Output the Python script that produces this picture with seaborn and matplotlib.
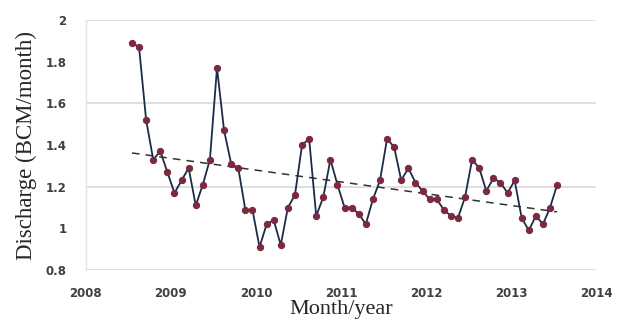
import numpy as np
import pandas as pd
import matplotlib
matplotlib.use("Agg")
import matplotlib.pyplot as plt
import seaborn as sns

# Monthly discharge, July 2008 - July 2013 (BCM/month)
start_year = 2008
start_month = 7
discharge = [
    1.89, 1.87, 1.52, 1.33, 1.37, 1.27, 1.17, 1.23, 1.29, 1.11, 1.21, 1.33,
    1.77, 1.47, 1.31, 1.29, 1.09, 1.09, 0.91, 1.02, 1.04, 0.92, 1.10, 1.16,
    1.40, 1.43, 1.06, 1.15, 1.33, 1.21, 1.10, 1.10, 1.07, 1.02, 1.14, 1.23,
    1.43, 1.39, 1.23, 1.29, 1.22, 1.18, 1.14, 1.14, 1.09, 1.06, 1.05, 1.15,
    1.33, 1.29, 1.18, 1.24, 1.22, 1.17, 1.23, 1.05, 0.99, 1.06, 1.02, 1.10,
    1.21,
]
x_ticks = [2008, 2009, 2010, 2011, 2012, 2013, 2014]
y_ticks = [0.8, 1.0, 1.2, 1.4, 1.6, 1.8, 2.0]
y_tick_labels = ["0.8", "1", "1.2", "1.4", "1.6", "1.8", "2"]

# Each month placed at its middle, in fractional years
months = np.arange(len(discharge))
year_frac = start_year + (start_month - 0.5 + months) / 12.0
df = pd.DataFrame({"t": year_frac, "q": discharge})

# Linear trend fitted to the monthly series
coef = np.polyfit(df["t"], df["q"], 1)
df["trend"] = np.polyval(coef, df["t"])

sns.set_theme(style="white")
plt.rcParams["font.family"] = ["DejaVu Sans"]

fig = plt.figure(figsize=(6.41, 3.27), dpi=100)
ax = fig.add_axes([0.134, 0.174, 0.796, 0.765])

for yv in [0.8, 1.2, 1.6, 2.0]:
    ax.axhline(yv, color="#d9d9d9", lw=1.2, zorder=0)

sns.lineplot(data=df, x="t", y="trend", ax=ax, color="#333333", lw=1.1,
             linestyle=(0, (5, 4)), zorder=2)
sns.lineplot(data=df, x="t", y="q", ax=ax, color="#1c2b4a", lw=1.3,
             marker="o", markersize=4.5, markerfacecolor="#7b2840",
             markeredgecolor="#7b2840", zorder=3)

ax.set_xlim(2008, 2014)
ax.set_ylim(0.8, 2.0)
ax.set_xticks(x_ticks)
ax.set_xticklabels([str(v) for v in x_ticks], fontsize=8.5, fontweight="bold",
                   color="#404040")
ax.set_yticks(y_ticks)
ax.set_yticklabels(y_tick_labels, fontsize=8.5, fontweight="bold", color="#404040")
ax.tick_params(axis="x", length=0, pad=12)
ax.tick_params(axis="y", length=0, pad=14)

for side in ["top", "right", "bottom"]:
    ax.spines[side].set_visible(False)
ax.spines["left"].set_color("#e3e3e3")
ax.spines["left"].set_linewidth(1.0)

ax.set_xlabel("Month/year", family="Liberation Serif", fontsize=16, labelpad=0)
ax.set_ylabel("Discharge (BCM/month)", family="Liberation Serif", fontsize=16.5,
              labelpad=6)

fig.savefig("out.png", dpi=100)
